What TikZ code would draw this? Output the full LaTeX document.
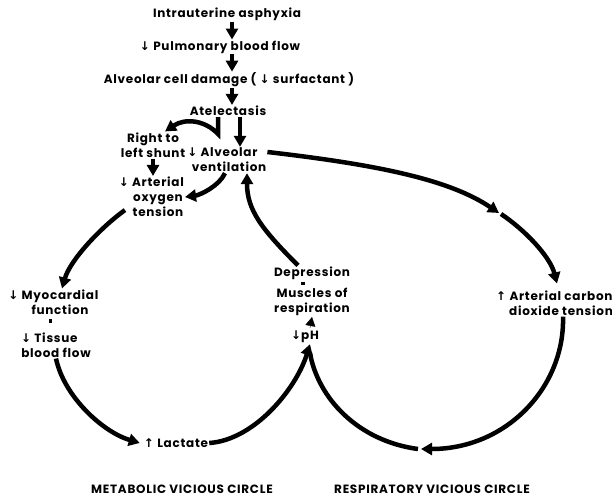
\documentclass[tikz,border=0pt]{standalone}
\usepackage{fontspec}
\setmainfont{Poppins}[LetterSpace=6]
\newfontfamily\symfont{DejaVu Sans}
\usetikzlibrary{arrows.meta,positioning}
\newcommand{\dnarr}{{\symfont\bfseries ↓}}
\newcommand{\uparr}{{\symfont\bfseries ↑}}
\tikzset{
  lbl/.style={font=\bfseries\fontsize{12}{15}\selectfont, align=center, inner sep=1pt},
  arr/.style={line width=4.5pt, -{Triangle[length=11pt,width=12pt]}},
  seg/.style={line width=4.5pt},
  tri/.style={line width=0.4pt, -{Triangle[length=9pt,width=10pt]}},
  dotmark/.style={fill, inner sep=0pt, minimum width=3pt, minimum height=4pt}
}
\begin{document}
\begin{tikzpicture}[x=1pt,y=-1pt]
\useasboundingbox (0,0) rectangle (612,499);
% causal chain
\node[lbl] (asph) at (227,14) {Intrauterine asphyxia};
\node[lbl] (pulm) at (220,47) {\dnarr\ Pulmonary blood flow};
\node[lbl] (cell) at (229,80) {Alveolar cell damage ( \dnarr\ surfactant )};
\node[lbl] (atel) at (228,111) {Atelectasis};
\node[lbl] (shunt) at (153,145) {Right to\\left shunt};
\node[lbl] (vent) at (229,160) {\llap{\dnarr\ }Alveolar\\ventilation};
\node[lbl] (oxy) at (158,197) {\llap{\dnarr\ }Arterial\\oxygen\\tension};
% metabolic circle
\node[lbl] (myo) at (60,302) {\llap{\dnarr\ }Myocardial\\function};
\node[dotmark] (sep1) at (50,321) {};
\node[lbl] (tissue) at (56,345) {\llap{\dnarr\ }Tissue\\blood flow};
\node[lbl] (lact) at (176,443) {\uparr\ Lactate};
% respiratory circle
\node[lbl] (depr) at (312,273) {Depression};
\node[dotmark, minimum width=4pt, minimum height=3pt] (sep2) at (303,283) {};
\node[lbl] (musc) at (312,302) {Muscles of\\respiration};
\node[lbl] (ph) at (310,337) {\llap{\dnarr}pH};
\node[lbl] (co2) at (561,303) {\llap{\uparr\ }Arterial carbon\\dioxide tension};
\coordinate (rtop) at (499,213);
\coordinate (rbot) at (421,449);
% captions
\node[lbl] (met) at (182,489) {METABOLIC VICIOUS CIRCLE};
\node[lbl] (resp) at (432,489) {RESPIRATORY VICIOUS CIRCLE};

\draw[arr] (232,0 |- asph.south) -- (232,0 |- pulm.north);
\draw[arr] (232,0 |- pulm.south) -- (232,0 |- cell.north);
\draw[arr] (232,0 |- cell.south) -- (232,0 |- atel.north);
\draw[arr] (218,0 |- atel.south) -- (218,134) .. controls (205,120) and (185,118) .. ([xshift=12pt]shunt.north);
\draw[arr] (240,0 |- atel.south) -- (240,0 |- vent.north);
\draw[arr] (shunt.south) -- (shunt.south |- oxy.north);
\draw[arr] ([xshift=-4pt]vent.south) .. controls +(-6,13) and +(15,-2) .. (oxy.east);
% left loop
\draw[arr] ([shift={(-6pt,8pt)}]oxy.south west) .. controls +(-25,18) and +(8,-28) .. ([xshift=2pt]myo.north);
\draw[arr] (tissue.south) .. controls +(8,38) and +(-37,-11) .. ([xshift=-3pt]lact.west);
\draw[arr] (lact.east) .. controls +(45,-3) and +(-14,45) .. (ph.south);
% right loop
\draw[arr] ([yshift=8pt]vent.east) .. controls (380,165) and (450,180) .. (rtop);
\draw[arr] ([shift={(2pt,-1pt)}]rtop) .. controls +(24,16) and +(-7,-27) .. ([shift={(-4pt,6pt)}]co2.north);
\draw[arr] ([xshift=2pt]co2.south) .. controls +(2,70) and +(86,0) .. (rbot);
\draw[seg] ([xshift=-3pt]rbot) .. controls +(-60,-8) and +(8,45) .. ([yshift=-9pt]ph.south);
\draw[arr] ([xshift=-14pt]depr.north) .. controls +(-36,-36) and +(0,37) .. ([xshift=18pt]vent.south);
\draw[tri] ([yshift=2pt]ph.north) -- (musc.south);
\end{tikzpicture}
\end{document}
